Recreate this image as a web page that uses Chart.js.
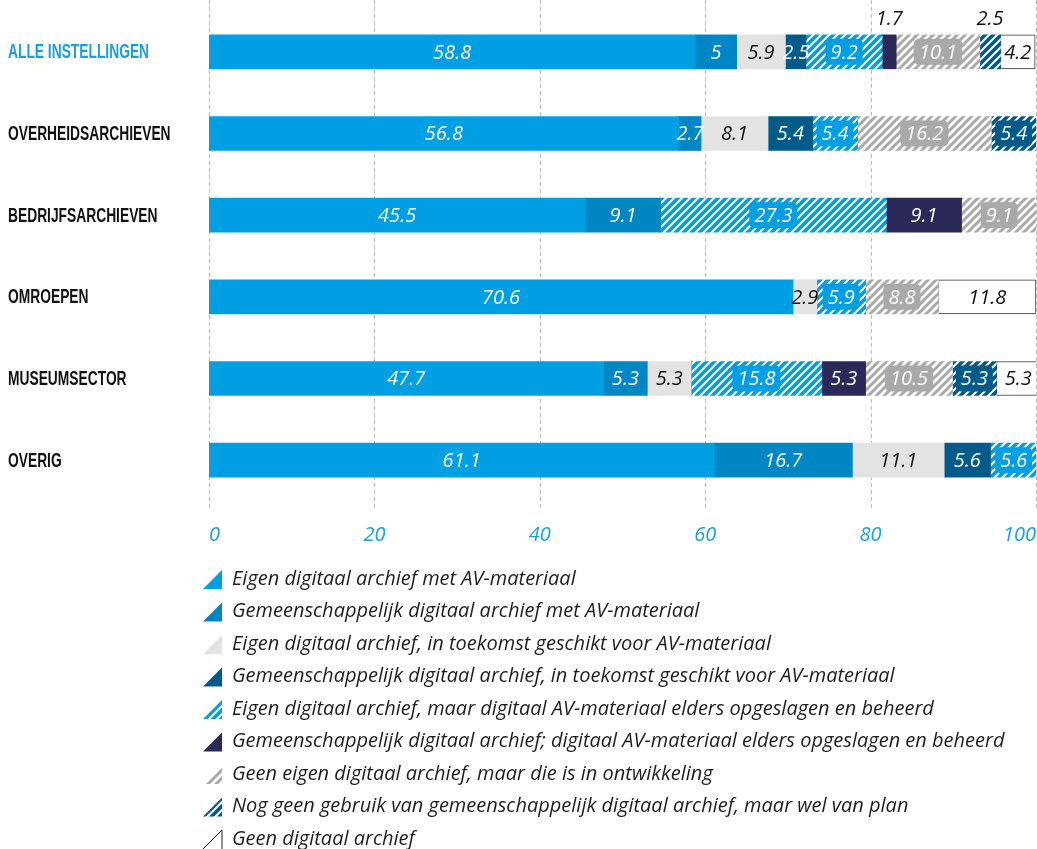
<!DOCTYPE html>
<html>
<head>
<meta charset="utf-8">
<script src="https://cdn.jsdelivr.net/npm/chart.js@4.4.1/dist/chart.umd.min.js"></script>
<style>
  html, body { margin: 0; padding: 0; background: #fff; }
  #wrap { width: 1037px; height: 849px; position: relative; }
</style>
</head>
<body>
<div id="wrap"><canvas id="chart"></canvas></div>
<script>
const categories = ['ALLE INSTELLINGEN', 'OVERHEIDSARCHIEVEN', 'BEDRIJFSARCHIEVEN', 'OMROEPEN', 'MUSEUMSECTOR', 'OVERIG'];

const seriesNames = [
  'Eigen digitaal archief met AV-materiaal',
  'Gemeenschappelijk digitaal archief met AV-materiaal',
  'Eigen digitaal archief, in toekomst geschikt voor AV-materiaal',
  'Gemeenschappelijk digitaal archief, in toekomst geschikt voor AV-materiaal',
  'Eigen digitaal archief, maar digitaal AV-materiaal elders opgeslagen en beheerd',
  'Gemeenschappelijk digitaal archief; digitaal AV-materiaal elders opgeslagen en beheerd',
  'Geen eigen digitaal archief, maar die is in ontwikkeling',
  'Nog geen gebruik van gemeenschappelijk digitaal archief, maar wel van plan',
  'Geen digitaal archief'
];

const eigenMetAV       = [58.8, 56.8, 45.5, 70.6, 47.7, 61.1];
const gemeenMetAV      = [5, 2.7, 9.1, 0, 5.3, 16.7];
const eigenToekomst    = [5.9, 8.1, 0, 2.9, 5.3, 11.1];
const gemeenToekomst   = [2.5, 5.4, 0, 0, 0, 5.6];
const eigenElders      = [9.2, 5.4, 27.3, 5.9, 15.8, 5.6];
const gemeenElders     = [1.7, 0, 9.1, 0, 5.3, 0];
const inOntwikkeling   = [10.1, 16.2, 9.1, 8.8, 10.5, 0];
const vanPlan          = [2.5, 5.4, 0, 0, 5.3, 0];
const geenArchief      = [4.2, 0, 0, 11.8, 5.3, 0];

const seriesValues = [eigenMetAV, gemeenMetAV, eigenToekomst, gemeenToekomst, eigenElders,
                      gemeenElders, inOntwikkeling, vanPlan, geenArchief];

const BLUE = '#009fe3', MID = '#0086c4', LIGHT = '#e3e3e3', DARK = '#005b8a',
      NAVY = '#2b2959', GREY = '#a9a9a9';

function stripes(bg, fg, w) {
  const s = 8;
  const c = document.createElement('canvas');
  c.width = s; c.height = s;
  const g = c.getContext('2d');
  g.fillStyle = bg; g.fillRect(0, 0, s, s);
  g.strokeStyle = fg; g.lineWidth = w;
  g.beginPath();
  g.moveTo(0, s); g.lineTo(s, 0);
  g.moveTo(-2, 2); g.lineTo(2, -2);
  g.moveTo(s - 2, s + 2); g.lineTo(s + 2, s - 2);
  g.stroke();
  return g.createPattern(c, 'repeat');
}

// fill, text colour, box colour behind the label (for hatched fills)
const styles = [
  { fill: BLUE, text: '#fff' },
  { fill: MID, text: '#fff' },
  { fill: LIGHT, text: '#111' },
  { fill: DARK, text: '#fff' },
  { fill: stripes(BLUE, '#fff', 2), text: '#fff', box: BLUE },
  { fill: NAVY, text: '#fff' },
  { fill: stripes('#fff', GREY, 3), text: '#fff', box: GREY },
  { fill: stripes(DARK, '#fff', 2), text: '#fff', box: DARK },
  { fill: '#fff', text: '#111', border: '#333' }
];

const LABEL_FONT = 'italic 20px "Open Sans", "DejaVu Sans", sans-serif';
const LEGEND_FONT = 'italic 20px "Open Sans", "DejaVu Sans", sans-serif';
const CAT_FONT = 'bold 20px "Liberation Sans", Arial, sans-serif';

const gridPlugin = {
  id: 'dashGrid',
  beforeDatasetsDraw(chart) {
    const { ctx, scales: { x } } = chart;
    ctx.save();
    ctx.strokeStyle = '#bdbdbd';
    ctx.lineWidth = 1;
    ctx.setLineDash([4, 3]);
    x.ticks.forEach(t => {
      const px = Math.min(Math.round(x.getPixelForValue(t.value)) + 0.5, chart.width - 0.5);
      ctx.beginPath();
      ctx.moveTo(px, 0);
      ctx.lineTo(px, chart.chartArea.bottom + 10);
      ctx.stroke();
    });
    ctx.restore();
  }
};

// category names, drawn condensed and left aligned
const catPlugin = {
  id: 'catLabels',
  afterDraw(chart) {
    const { ctx, scales: { y } } = chart;
    ctx.save();
    ctx.font = CAT_FONT;
    ctx.textAlign = 'left';
    ctx.textBaseline = 'middle';
    categories.forEach((name, i) => {
      const py = y.getPixelForValue(i);
      ctx.save();
      ctx.translate(8, py);
      ctx.scale(0.69, 1);
      ctx.fillStyle = i === 0 ? '#1a9fdc' : '#111';
      ctx.fillText(name, 0, 1);
      ctx.restore();
    });
    ctx.restore();
  }
};

function roundRect(ctx, x, y, w, h, r) {
  ctx.beginPath();
  ctx.moveTo(x + r, y);
  ctx.arcTo(x + w, y, x + w, y + h, r);
  ctx.arcTo(x + w, y + h, x, y + h, r);
  ctx.arcTo(x, y + h, x, y, r);
  ctx.arcTo(x, y, x + w, y, r);
  ctx.closePath();
}

const labelPlugin = {
  id: 'segLabels',
  afterDatasetsDraw(chart) {
    const { ctx } = chart;
    ctx.save();
    ctx.font = LABEL_FONT;
    ctx.textAlign = 'center';
    ctx.textBaseline = 'middle';
    chart.data.datasets.forEach((ds, di) => {
      const st = styles[di];
      chart.getDatasetMeta(di).data.forEach((bar, i) => {
        const v = ds.data[i];
        if (!v) return;
        const left = Math.min(bar.x, bar.base), right = Math.max(bar.x, bar.base);
        const w = right - left;
        const cx = (left + right) / 2;
        const txt = String(v);
        const tw = ctx.measureText(txt).width;
        const outside = w < 16 || (st.box && w < 25);
        if (outside) {
          ctx.fillStyle = '#111';
          ctx.fillText(txt, cx, bar.y - bar.height / 2 - 16);
          return;
        }
        if (st.box) {
          const bw = Math.min(tw + 10, w - 4);
          ctx.fillStyle = st.box;
          roundRect(ctx, cx - bw / 2, bar.y - 13, bw, 26, 5);
          ctx.fill();
        }
        ctx.fillStyle = st.text;
        ctx.fillText(txt, cx, bar.y + 1);
      });
    });
    ctx.restore();
  }
};

const legendPlugin = {
  id: 'triLegend',
  afterDraw(chart) {
    const { ctx } = chart;
    const x0 = 203, size = 19, tx = 232;
    const y0 = chart.scales.x.bottom + 38, step = 32.5;
    ctx.save();
    ctx.font = LEGEND_FONT;
    ctx.textBaseline = 'middle';
    ctx.textAlign = 'left';
    chart.data.datasets.forEach((ds, di) => {
      const st = styles[di];
      const cy = y0 + di * step;
      const bottom = cy + 10, top = bottom - size;
      if (st.border) {
        ctx.strokeStyle = '#222';
        ctx.lineWidth = 1;
        ctx.beginPath();
        ctx.moveTo(x0, bottom);
        ctx.lineTo(x0 + size, top);
        ctx.lineTo(x0 + size, bottom);
        ctx.stroke();
      } else {
        ctx.beginPath();
        ctx.moveTo(x0, bottom);
        ctx.lineTo(x0 + size, bottom);
        ctx.lineTo(x0 + size, top);
        ctx.closePath();
        ctx.fillStyle = st.fill;
        ctx.fill();
      }
      ctx.fillStyle = '#1e1e1e';
      ctx.fillText(ds.label, tx, cy);
    });
    ctx.restore();
  }
};

new Chart(document.getElementById('chart'), {
  type: 'bar',
  data: {
    labels: categories,
    datasets: seriesValues.map((vals, i) => ({
      label: seriesNames[i],
      data: vals,
      backgroundColor: styles[i].fill,
      borderColor: styles[i].border || 'transparent',
      borderWidth: ctx => (styles[i].border && ctx.raw > 0 ? 1 : 0),
      borderSkipped: false,
      barThickness: 34
    }))
  },
  options: {
    indexAxis: 'y',
    responsive: true,
    maintainAspectRatio: false,
    animation: false,
    layout: { padding: { left: 8, right: 1, top: 11, bottom: 308 } },
    plugins: { legend: { display: false }, tooltip: { enabled: false } },
    scales: {
      x: {
        stacked: true,
        min: 0,
        max: 100,
        grid: { display: false },
        border: { display: false },
        ticks: {
          stepSize: 20,
          align: 'inner',
          padding: 14,
          color: '#1a9fdc',
          font: { family: '"Open Sans", sans-serif', style: 'italic', size: 20 }
        },
        afterFit: s => { s.height = 40; s.paddingLeft = 0; s.paddingRight = 0; }
      },
      y: {
        stacked: true,
        grid: { display: false },
        border: { display: false },
        ticks: { display: false },
        afterFit: s => { s.width = 201; }
      }
    }
  },
  plugins: [gridPlugin, labelPlugin, catPlugin, legendPlugin]
});
</script>
</body>
</html>
